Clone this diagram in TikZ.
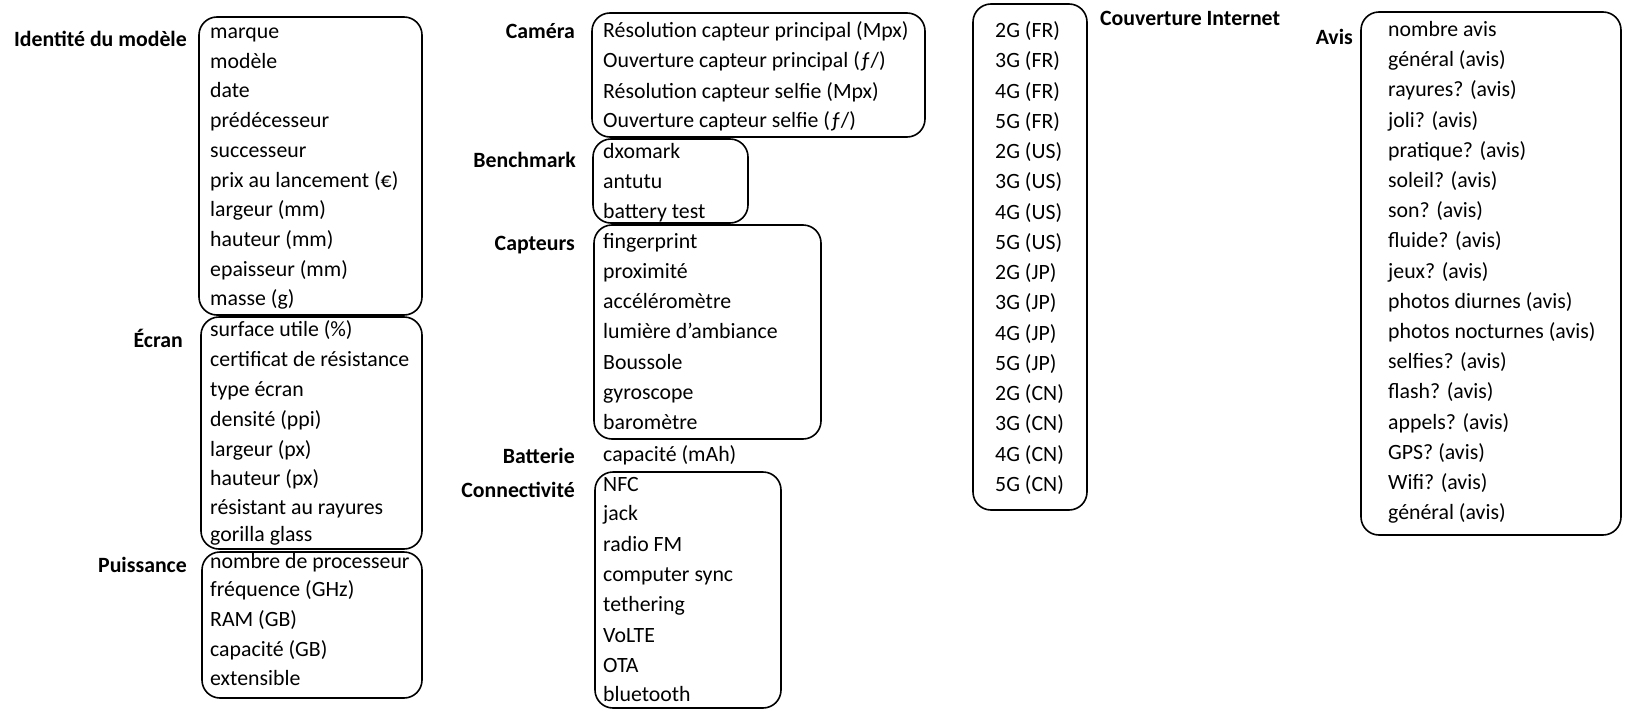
\documentclass[tikz,border=0pt]{standalone}
\usepackage{fontspec}
\setmainfont{Carlito}
\begin{document}
\begin{tikzpicture}[x=1pt,y=-1pt,
  itm/.style={anchor=base west,inner sep=0pt,yshift=-1.5pt,font=\fontsize{21.8}{26}\selectfont},
  lbl/.style={anchor=base east,inner sep=0pt,font=\fontsize{21.8}{26}\selectfont\bfseries},
  boxx/.style={draw,line width=1.6pt,rounded corners=18pt}]
\useasboundingbox (0,0) rectangle (1644,720);

% Identité du modèle
\draw[boxx] (199,17) rectangle (422,315);
\node[lbl] (lid) at (187,46) {Identité du modèle};
\node[itm] (id1) at (210,37) {marque};
\node[itm] (id2) at (210,66.7) {modèle};
\node[itm] (id3) at (210,96.4) {date};
\node[itm] (id4) at (210,126) {prédécesseur};
\node[itm] (id5) at (210,155.8) {successeur};
\node[itm] (id6) at (210,185.5) {prix au lancement (€)};
\node[itm] (id7) at (210,215) {largeur (mm)};
\node[itm] (id8) at (210,245) {hauteur (mm)};
\node[itm] (id9) at (210,274.6) {epaisseur (mm)};
\node[itm] (id10) at (210,304) {masse (g)};

% Écran
\draw[boxx] (201,317) rectangle (422,549);
\node[lbl] (lec) at (183,347) {Écran};
\node[itm] (ec1) at (210,335) {surface utile (\%)};
\node[itm] (ec2) at (210,365) {certificat de résistance};
\node[itm] (ec3) at (210,395) {type écran};
\node[itm] (ec4) at (210,425) {densité (ppi)};
\node[itm] (ec5) at (210,455) {largeur (px)};
\node[itm] (ec6) at (210,484) {hauteur (px)};
\node[itm] (ec7) at (210,513) {résistant au rayures};
\node[itm] (ec8) at (210,540) {gorilla glass};

% Puissance
\draw[boxx] (202,552) rectangle (422,698);
\node[lbl] (lpu) at (187,572) {Puissance};
\node[itm] (pu1) at (210,567) {nombre de processeur};
\node[itm] (pu2) at (210,595) {fréquence (GHz)};
\node[itm] (pu3) at (210,625) {RAM (GB)};
\node[itm] (pu4) at (210,655) {capacité (GB)};
\node[itm] (pu5) at (210,684) {extensible};

% Caméra
\draw[boxx] (592,13) rectangle (925,137);
\node[lbl] (lca) at (575,38) {Caméra};
\node[itm] (ca1) at (603,36) {Résolution capteur principal (Mpx)};
\node[itm] (ca2) at (603,66) {Ouverture capteur principal (ƒ/)};
\node[itm] (ca3) at (603,97) {Résolution capteur selfie (Mpx)};
\node[itm] (ca4) at (603,126) {Ouverture capteur selfie (ƒ/)};

% Benchmark
\draw[boxx] (593,139) rectangle (748,223);
\node[lbl] (lbe) at (576,167) {Benchmark};
\node[itm] (be1) at (603,157) {dxomark};
\node[itm] (be2) at (603,187) {antutu};
\node[itm] (be3) at (603,217) {battery test};

% Capteurs
\draw[boxx] (594,225) rectangle (821,439);
\node[lbl] (lcp) at (575,250) {Capteurs};
\node[itm] (cp1) at (603,247) {fingerprint};
\node[itm] (cp2) at (603,277) {proximité};
\node[itm] (cp3) at (603,307) {accéléromètre};
\node[itm] (cp4) at (603,337) {lumière d'ambiance};
\node[itm] (cp5) at (603,368) {Boussole};
\node[itm] (cp6) at (603,398) {gyroscope};
\node[itm] (cp7) at (603,428) {baromètre};

% Batterie
\node[lbl] (lba) at (575,463) {Batterie};
\node[itm] (ba1) at (603,460) {capacité (mAh)};

% Connectivité
\draw[boxx] (595,472) rectangle (781,708);
\node[lbl] (lco) at (575,497) {Connectivité};
\node[itm] (co1) at (603,490) {NFC};
\node[itm] (co2) at (603,519) {jack};
\node[itm] (co3) at (603,550) {radio FM};
\node[itm] (co4) at (603,580) {computer sync};
\node[itm] (co5) at (603,610) {tethering};
\node[itm] (co6) at (603,641) {VoLTE};
\node[itm] (co7) at (603,671) {OTA};
\node[itm] (co8) at (603,700) {bluetooth};

% Couverture Internet
\draw[boxx] (973,4) rectangle (1087,510);
\node[lbl,anchor=base west] (lcv) at (1100,25) {Couverture Internet};
\foreach \t [count=\i from 0] in {2G (FR),3G (FR),4G (FR),5G (FR),2G (US),3G (US),4G (US),5G (US),2G (JP),3G (JP),4G (JP),5G (JP),2G (CN),3G (CN),4G (CN),5G (CN)}
  \node[itm] (cv\i) at (995,36+30.25*\i) {\t};

% Avis
\draw[boxx] (1361,12) rectangle (1621,535);
\node[lbl] (lav) at (1353,44) {Avis};
\foreach \t [count=\i from 0] in {nombre avis,général (avis),rayures? (avis),joli? (avis),pratique? (avis),soleil? (avis),son? (avis),fluide? (avis),jeux? (avis),photos diurnes (avis),photos nocturnes (avis),selfies? (avis),flash? (avis),appels? (avis),GPS? (avis),Wifi? (avis),général (avis)}
  \node[itm] (av\i) at (1388,35+30.2*\i) {\t};
\end{tikzpicture}
\end{document}
